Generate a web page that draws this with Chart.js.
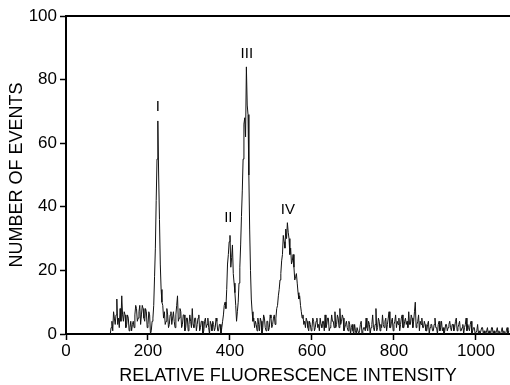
<!DOCTYPE html>
<html>
<head>
<meta charset="utf-8">
<script src="https://cdn.jsdelivr.net/npm/chart.js@4"></script>
<style>
  html, body { margin: 0; padding: 0; background: #fff; }
  #wrap { width: 510px; height: 385px; }
</style>
</head>
<body>
<div id="wrap"><canvas id="histChart" width="510" height="385"></canvas></div>
<script>
// channel counts, 2-unit bins starting at 108
const binStart = 108;
const binWidth = 2;

// 108 - 236 : low background + peak I
const countsPeakI = [0, 2, 4, 1, 7, 5, 3, 6, 11, 3,
    5, 2, 8, 4, 12, 6, 4, 7, 6, 2,
    3, 6, 5, 1, 2, 4, 1, 3, 4, 2,
    6, 9, 8, 4, 5, 7, 9, 3, 6, 9,
    8, 5, 4, 8, 7, 2, 3, 7, 6, 0,
    1, 4, 5, 9, 18, 27, 42, 55, 67, 50,
    36, 22, 14, 10, 9];
// 238 - 382 : background
const countsValley1 = [5, 7, 3, 4, 8, 6, 2, 3, 6, 7,
    3, 5, 7, 4, 2, 6, 9, 12, 4, 5,
    8, 7, 2, 3, 6, 6, 1, 2, 5, 5,
    1, 3, 6, 4, 2, 8, 3, 2, 5, 5,
    1, 3, 5, 6, 1, 2, 4, 4, 0, 1,
    4, 5, 2, 3, 5, 2, 0, 4, 3, 1,
    4, 3, 1, 2, 5, 4, 1, 1, 3, 3,
    0, 2, 4];
// 384 - 460 : peaks II and III
const countsPeakII_III = [6, 9, 10, 8, 14, 22, 25, 29, 31, 21,
    24, 28, 19, 16, 13, 9, 4, 7, 10, 16,
    21, 28, 37, 45, 55, 66, 68, 62, 84, 72,
    69, 50, 33, 20, 11, 7, 4, 5, 2];
// 462 - 614 : background + peak IV
const countsPeakIV = [4, 3, 1, 5, 3, 1, 5, 4, 0, 2,
    6, 5, 2, 1, 4, 4, 1, 2, 6, 5,
    2, 3, 5, 6, 3, 5, 8, 9, 12, 14,
    17, 19, 23, 25, 31, 29, 27, 33, 30, 35,
    32, 30, 25, 27, 22, 23, 25, 21, 17, 18,
    19, 16, 13, 11, 12, 9, 7, 5, 6, 3,
    4, 2, 5, 4, 2, 1, 4, 3, 1, 2,
    5, 4, 1, 2, 4, 5, 2];
// 616 - 1080 : tail
const countsTail = [3, 1, 5, 3, 2, 4, 4, 1, 6, 2, 3, 5, 5, 1, 2, 3, 6, 4, 4, 2,
    7, 2, 3, 6, 5, 2, 8, 3, 4, 6, 5, 1, 2, 3, 4, 2, 1, 4, 3, 0,
    2, 3, 1, 0, 3, 1, 0, 2, 2, 0, 1, 3, 4, 0, 1, 2, 2, 1, 5, 2,
    1, 4, 3, 0, 2, 3, 6, 2, 1, 3, 8, 1, 2, 5, 4, 1, 3, 2, 6, 3,
    2, 4, 5, 1, 3, 5, 7, 2, 2, 4, 5, 1, 3, 4, 6, 2, 4, 3, 5, 1,
    3, 5, 6, 2, 2, 4, 5, 3, 4, 2, 7, 3, 3, 6, 5, 2, 4, 7, 10, 2,
    3, 4, 6, 1, 4, 3, 5, 2, 2, 4, 3, 1, 1, 3, 4, 0, 2, 3, 3, 1,
    1, 3, 5, 2, 2, 0, 3, 4, 1, 2, 4, 1, 2, 0, 1, 3, 3, 1, 2, 3,
    4, 2, 1, 3, 3, 1, 2, 4, 5, 1, 2, 3, 4, 1, 1, 2, 3, 0, 2, 3,
    5, 1, 3, 2, 1, 3, 4, 0, 1, 2, 2, 0, 0, 1, 3, 0, 1, 0, 0, 2,
    2, 0, 1, 0, 0, 1, 2, 0, 1, 0, 0, 2, 2, 0, 1, 0, 0, 1, 2, 0,
    1, 0, 0, 1, 2, 0, 1, 0, 0, 1, 2, 0, 1];

const xTicks = [0, 200, 400, 600, 800, 1000];
const yTicks = [0, 20, 40, 60, 80, 100];

const peakNames = ['I', 'II', 'III', 'IV'];
const peakX = [224, 396, 441, 541];
const peakY = [71.5, 36.5, 88, 39];

const counts = [].concat(countsPeakI, countsValley1, countsPeakII_III, countsPeakIV, countsTail);
const points = counts.map((c, i) => ({ x: binStart + i * binWidth, y: c }));

const FONT = "'Liberation Sans', Arial, Helvetica, sans-serif";

// top frame line + roman peak labels
const extras = {
    id: 'extras',
    afterDraw(chart) {
        const { ctx, chartArea, scales } = chart;
        ctx.save();
        ctx.strokeStyle = '#000';
        ctx.lineWidth = 2;
        ctx.beginPath();
        ctx.moveTo(chartArea.left - 1, chartArea.top);
        ctx.lineTo(chart.width, chartArea.top);
        ctx.stroke();

        ctx.fillStyle = '#000';
        ctx.font = '15px ' + FONT;
        ctx.textAlign = 'center';
        ctx.textBaseline = 'middle';
        peakNames.forEach((name, i) => {
            ctx.fillText(name, scales.x.getPixelForValue(peakX[i]), scales.y.getPixelForValue(peakY[i]));
        });
        ctx.restore();
    }
};

new Chart(document.getElementById('histChart'), {
    type: 'line',
    data: {
        datasets: [{
            data: points,
            borderColor: '#111',
            borderWidth: 1,
            pointRadius: 0,
            tension: 0,
            fill: false
        }]
    },
    options: {
        responsive: false,
        animation: false,
        layout: { padding: { top: 16, right: 0, left: 0, bottom: 0 } },
        plugins: { legend: { display: false }, tooltip: { enabled: false } },
        scales: {
            x: {
                type: 'linear',
                min: 0,
                max: 1083,
                afterBuildTicks: s => { s.ticks = xTicks.map(v => ({ value: v })); },
                afterFit: s => { s.height = 51; },
                border: { display: true, color: '#000', width: 2 },
                grid: { drawOnChartArea: false, drawTicks: true, tickLength: 6, tickColor: '#000', tickWidth: 1.5 },
                ticks: { color: '#000', padding: 1, maxRotation: 0, callback: v => String(v), font: { family: FONT, size: 17 } },
                title: {
                    display: true,
                    text: 'RELATIVE FLUORESCENCE INTENSITY',
                    color: '#000',
                    padding: 0,
                    font: { family: FONT, size: 18, lineHeight: 1 }
                }
            },
            y: {
                min: 0,
                max: 100,
                afterBuildTicks: s => { s.ticks = yTicks.map(v => ({ value: v })); },
                afterFit: s => { s.width = 66; },
                border: { display: true, color: '#000', width: 2 },
                grid: { drawOnChartArea: false, drawTicks: true, tickLength: 6, tickColor: '#000', tickWidth: 1.5 },
                ticks: { color: '#000', padding: 3, callback: v => String(v), font: { family: FONT, size: 17 } },
                title: {
                    display: true,
                    text: 'NUMBER OF EVENTS',
                    color: '#000',
                    padding: { top: 8, bottom: 0 },
                    font: { family: FONT, size: 18, lineHeight: 1 }
                }
            }
        }
    },
    plugins: [extras]
});
</script>
</body>
</html>
